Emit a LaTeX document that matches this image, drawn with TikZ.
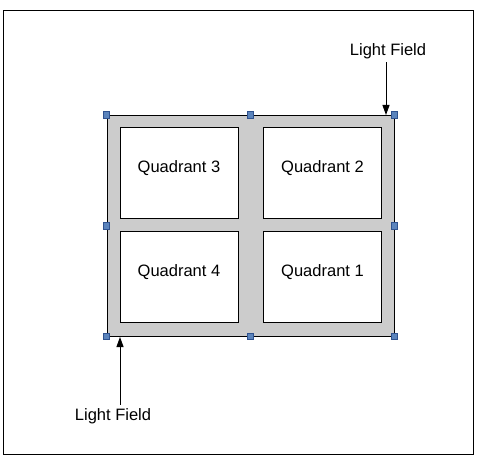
\documentclass[tikz,border=0pt]{standalone}
\usepackage{fontspec}
\setmainfont{Liberation Sans}
\usetikzlibrary{arrows.meta, positioning}
\definecolor{fieldgray}{HTML}{CCCCCC}
\definecolor{handlefill}{HTML}{5B84BC}
\definecolor{handleline}{HTML}{2F528F}
\tikzset{
  % riquadro esterno
  frame/.style={draw=black, line width=1.2pt},
  % campo luminoso (rettangolo grigio)
  lfield/.style={draw=black, line width=1pt, fill=fieldgray, minimum width=287pt,
    minimum height=220.5pt, inner sep=0pt},
  % quadrante
  quad/.style={draw=black, line width=1pt, fill=white, minimum width=118pt,
    minimum height=91pt, inner sep=0pt},
  qlbl/.style={anchor=north, yshift=-30pt, font=\fontsize{16.5}{19}\selectfont},
  % maniglie di selezione
  handle/.style={draw=handleline, fill=handlefill, line width=0.8pt, minimum size=6.5pt,
    inner sep=0pt},
  % etichette e frecce
  lbl/.style={font=\fontsize{16.5}{19}\selectfont, align=center},
  ray/.style={-{Triangle[length=10pt, width=7pt]}, line width=1pt},
}
\begin{document}
\begin{tikzpicture}[x=1pt, y=-1pt]
  \useasboundingbox (0,0) rectangle (480,476);
  \draw[frame] (3.5,10.5) rectangle (473.5,454.5);
  % campo e quadranti
  \node[lfield] (field) at (250.5,225.75) {};
  \node[quad, label={[qlbl]north:Quadrant 3}] (q3) at (179,173.5) {};
  \node[quad, label={[qlbl]north:Quadrant 2}] (q2) at (322.5,173.5) {};
  \node[quad, label={[qlbl]north:Quadrant 4}] (q4) at (179,277.5) {};
  \node[quad, label={[qlbl]north:Quadrant 1}] (q1) at (322.5,277.5) {};
  \foreach \a [count=\i] in {north west, north, north east, east, south east, south,
    south west, west}
    \node[handle] (h\i) at (field.\a) {};
  % frecce
  \node[lbl] (lfa) at (388,51) {Light Field};
  \node[lbl] (lfb) at (113,416) {Light Field};
  \coordinate (tipa) at (386,115);
  \coordinate (tipb) at (120,337);
  \draw[ray] (lfa.south -| tipa) -- (tipa);
  \draw[ray] (lfb.north -| tipb) -- (tipb);
\end{tikzpicture}
\end{document}
